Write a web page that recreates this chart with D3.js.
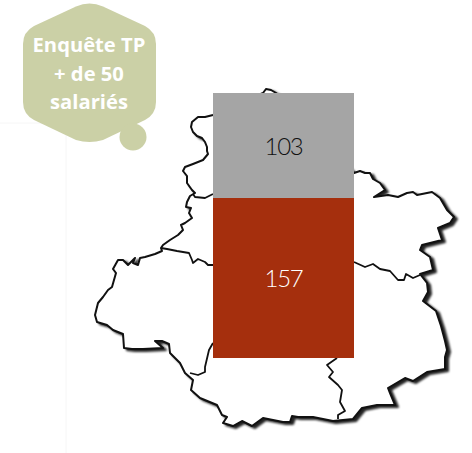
<!DOCTYPE html>
<html>
<head>
<meta charset="utf-8">
<script src="https://cdn.jsdelivr.net/npm/d3@7"></script>
<style>
  html, body { margin: 0; padding: 0; background: #fff; }
</style>
</head>
<body>
<div id="chart"></div>
<script>
// chart values
var categories = ["Autres", "TP"]
var values = [157, 103]
var barColors = ["#a52f0d", "#a5a5a5"]
var labelColors = ["#ffffff", "#111111"]
var badgeLines = ["Enquête TP", "+ de 50", "salariés"]

// background map (pixel coordinates)
var outline = [
  [213,115],[205,117],[198,117],[192,122],[191,127],[193,132],[197,136],[202,138],[205,142],[207,147],
  [207,151],[208,154],[203,160],[193,164],[185,167],[183,171],[187,176],[187,183],[192,190],[195,193],
  [190,196],[187,202],[186,207],[191,208],[189,213],[192,218],[185,223],[181,225],[183,230],[178,235],
  [170,240],[163,245],[161,248],[162,251],[155,254],[145,257],[140,258],[138,265],[133,263],[135,258],
  [128,265],[123,260],[118,260],[113,269],[116,273],[112,287],[108,290],[103,297],[98,303],[95,315],
  [97,322],[107,325],[113,330],[123,334],[124,348],[132,349],[143,349],[163,348],[155,341],[162,341],
  [169,344],[170,353],[180,363],[185,373],[193,380],[191,390],[200,398],[217,405],[222,415],[227,417],
  [223,423],[233,426],[242,421],[252,426],[263,418],[273,420],[283,422],[290,422],[292,416],[298,417],
  [313,417],[333,421],[353,419],[362,408],[377,405],[395,405],[390,393],[388,388],[405,378],[413,381],
  [427,372],[445,369],[445,357],[447,350],[445,341],[441,326],[436,311],[423,301],[428,292],[427,283],
  [420,274],[433,270],[430,257],[420,250],[422,245],[442,240],[438,228],[450,223],[454,217],[447,210],
  [440,198],[432,192],[417,195],[413,192],[407,193],[398,197],[388,195],[374,197],[385,190],[380,183],
  [373,179],[370,173],[365,173],[360,171],[354,173],[276,93],[271,90],[266,89],[263,93]
]
var innerNorth = [[193,194],[195,197],[205,198],[209,196],[213,194]]
var innerWest = [[161,248],[167,249],[177,251],[189,253],[192,260],[193,263],[198,259],[205,262],[208,265],[213,265]]
var innerEast = [[354,262],[365,267],[373,264],[380,269],[390,271],[398,280],[404,280],[406,274],[413,278],[420,275]]
var innerSouthWest = [[213,343],[209,350],[205,367],[205,372],[198,375],[190,373]]
var innerSouth = [[337,358],[327,365],[333,372],[329,377],[338,385],[342,390],[340,402],[345,411],[338,415],[338,419]]
var faintGrid = [[0,123],[66,123],[66,453]]

var width = 472, height = 453

var svg = d3.select("#chart").append("svg")
  .attr("width", width)
  .attr("height", height)
  .style("display", "block")

var line = d3.line().curve(d3.curveLinear)

svg.append("path")
  .attr("d", line(faintGrid))
  .attr("fill", "none")
  .attr("stroke", "#f6f6f6")

// map, white fill so the shadow only falls outside
svg.append("path")
  .attr("d", line(outline) + "Z")
  .attr("fill", "#fff")
  .attr("stroke", "#111")
  .attr("stroke-width", 2)
  .attr("stroke-linejoin", "round")
  .style("filter", "blur(0.4px) drop-shadow(3px 2.5px 1.2px #222)")

var borders = svg.append("g")
  .attr("fill", "none")
  .attr("stroke", "#111")
  .attr("stroke-width", 1.8)
  .attr("stroke-linejoin", "round")
  .style("filter", "blur(0.4px)")
;[innerNorth, innerWest, innerEast, innerSouthWest, innerSouth].forEach(function (d) {
  borders.append("path").attr("d", line(d))
})

// stacked bar
var x = d3.scaleBand().domain(["bar"]).range([213, 354])
var y = d3.scaleLinear().domain([0, d3.sum(values)]).range([358, 93])

var rows = [Object.fromEntries(categories.map(function (c, i) { return [c, values[i]] }))]
var series = d3.stack().keys(categories)(rows)

var bars = svg.selectAll("g.seg").data(series).enter().append("g").attr("class", "seg")
bars.append("rect")
  .attr("x", x("bar"))
  .attr("width", x.bandwidth())
  .attr("y", function (d) { return y(d[0][1]) })
  .attr("height", function (d) { return y(d[0][0]) - y(d[0][1]) })
  .attr("fill", function (d, i) { return barColors[i] })
bars.append("text")
  .attr("x", x("bar") + x.bandwidth() / 2)
  .attr("y", function (d) { return (y(d[0][0]) + y(d[0][1])) / 2 + 1 })
  .attr("dy", "0.35em")
  .attr("text-anchor", "middle")
  .attr("font-family", "Lato, sans-serif")
  .attr("font-weight", 300)
  .attr("font-size", 24)
  .attr("letter-spacing", -1.2)
  .attr("fill", function (d, i) { return labelColors[i] })
  .text(function (d, i) { return values[i] })

// badge
var badge = svg.append("g")
badge.append("path")
  .attr("d", "M76,6.5 Q89.5,0.5 103,6.5 L145,26 Q156,32 156,44 L156,102 Q156,114 145,120 L103,140 Q89.5,144 76,140 L34,120 Q23,114 23,102 L23,44 Q23,32 34,26 Z")
  .attr("fill", "#cbd0a6")
badge.append("circle").attr("cx", 133).attr("cy", 137).attr("r", 13.5).attr("fill", "#cbd0a6")
badge.selectAll("text").data(badgeLines).enter().append("text")
  .attr("x", 89)
  .attr("y", function (d, i) { return 52 + i * 28.5 })
  .attr("text-anchor", "middle")
  .attr("font-family", "'Open Sans', sans-serif")
  .attr("font-weight", 700)
  .attr("font-size", 20.2)
  .attr("fill", "#fff")
  .text(function (d) { return d })
</script>
</body>
</html>
